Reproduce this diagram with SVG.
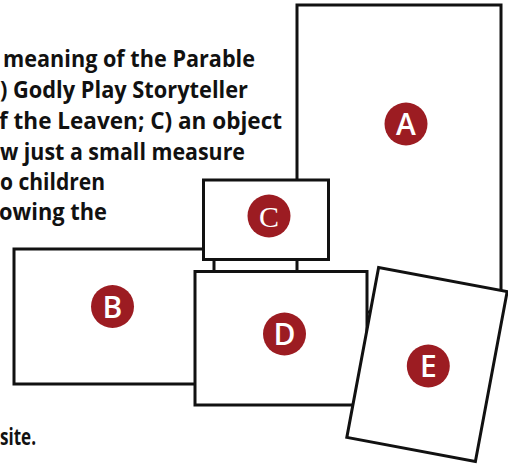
<svg xmlns="http://www.w3.org/2000/svg" width="508" height="466" viewBox="0 0 508 466">
<style>
.t{font-family:"Open Sans","Liberation Sans",sans-serif;font-weight:700;font-size:23px;fill:#111}
.box{fill:#fff;stroke:#111;stroke-width:3}
.dot{fill:#9c1c22}
.lbl{font-family:"Open Sans","Liberation Sans",sans-serif;font-weight:600;font-size:30px;fill:#fff;text-anchor:middle}
</style>
<rect width="508" height="466" fill="#fff"/>
<g id="text">
<text class="t" x="3" y="67" textLength="252" lengthAdjust="spacingAndGlyphs">meaning of the Parable</text>
<text class="t" x="0" y="98" textLength="248" lengthAdjust="spacingAndGlyphs">) Godly Play Storyteller</text>
<text class="t" x="-1" y="129" textLength="283" lengthAdjust="spacingAndGlyphs">f the Leaven; C) an object</text>
<text class="t" x="0" y="160" textLength="245" lengthAdjust="spacingAndGlyphs">w just a small measure</text>
<text class="t" x="0" y="190" textLength="105" lengthAdjust="spacingAndGlyphs">o children</text>
<text class="t" x="-1" y="220" textLength="108" lengthAdjust="spacingAndGlyphs">owing the</text>
<text class="t" x="0" y="445" textLength="36" lengthAdjust="spacingAndGlyphs">site.</text>
</g>
<g id="A">
<rect class="box" x="297" y="5" width="204" height="307"/>
<circle class="dot" cx="406" cy="124" r="21.5"/>
<text class="lbl" x="406" y="135">A</text>
</g>
<g id="B">
<rect class="box" x="14" y="249" width="200" height="135"/>
<circle class="dot" cx="112.5" cy="306.5" r="21.5"/>
<text class="lbl" x="112.5" y="317.5">B</text>
</g>
<g id="C">
<rect class="box" x="203.5" y="180" width="125" height="79.5"/>
<circle class="dot" cx="269" cy="216" r="21.5"/>
<text class="lbl" x="269" y="227" style="font-family:'Liberation Serif',serif;font-weight:400">C</text>
</g>
<g id="D">
<rect class="box" x="195" y="271.5" width="172" height="133.5"/>
<circle class="dot" cx="284.5" cy="334" r="21.5"/>
<text class="lbl" x="284.5" y="345">D</text>
</g>
<g id="E">
<rect class="box" x="361.6" y="278.1" width="130.8" height="172.8" transform="rotate(10.6 427 364.5)"/>
<circle class="dot" cx="428.3" cy="366" r="21.5"/>
<text class="lbl" x="428.3" y="377">E</text>
</g>
<g id="connectors"/>
</svg>
